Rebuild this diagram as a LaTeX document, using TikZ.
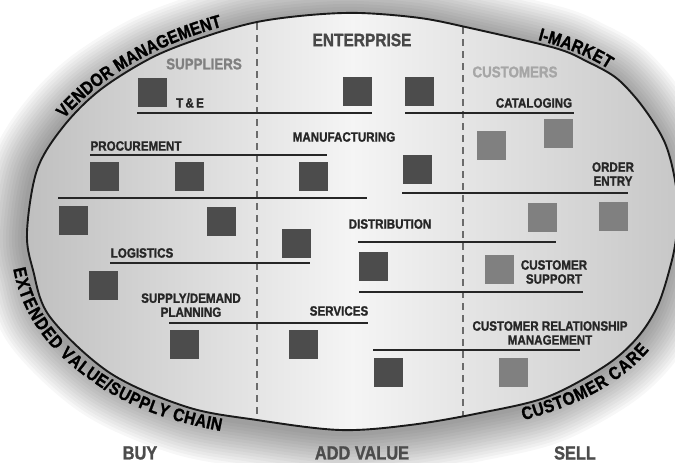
\documentclass[tikz,border=0pt]{standalone}
\usepackage{fontspec}
\newfontfamily\condfont{Liberation Sans}[FakeStretch=0.86, BoldFeatures={FakeBold=1.3}]
\usetikzlibrary{positioning,decorations.text}

% contorno dell'ovale (coordinate in px, y verso il basso)
\newcommand\ovale{plot[smooth cycle, tension=0.55] coordinates {(27,232) (37,170) (63,127) (100,90) (153,57) (207,36) (257,22) (310,15) (360,13) (420,18) (470,28) (555,48) (588,62) (615,77) (635,97) (652,120) (665,143) (673,170) (678,203) (677,230) (672,260) (658,305) (637,338) (605,366) (547,397) (480,413) (410,425) (340,430) (257,420) (187,407) (110,373) (50,317) (33,270)}}

\begin{document}
\begin{tikzpicture}[x=1pt, y=-1pt]
    % Stili
    \tikzset{
        sublabel/.style={font=\condfont\bfseries\fontsize{13.5}{14}\selectfont, text=black!85, align=center, inner sep=0pt},
        heading/.style={font=\condfont\bfseries\fontsize{15.5}{16}\selectfont, inner sep=0pt},
        stage/.style={font=\condfont\bfseries\fontsize{19}{20}\selectfont, text=black!70, inner sep=0pt},
        darkbox/.style={rectangle, fill=black!70, minimum size=29pt, inner sep=0pt},
        custbox/.style={rectangle, fill=black!50, minimum size=29pt, inner sep=0pt},
        sepline/.style={line width=2.4pt, black!85},
        divider/.style={line width=1.4pt, black!58, dash pattern=on 7pt off 5pt},
        curvetext/.style={decorate, decoration={text along path, text align=center,
            text={|\condfont\bfseries\fontsize{18}{18}\selectfont|#1}}}
    }
    \useasboundingbox (0,0) rectangle (675,463);

    % Alone e riempimento dell'ovale
    \foreach \w in {90,84,...,6}
        \draw[line width=\w pt, black, draw opacity=0.03, xshift=-3pt, yshift=-3pt] \ovale;
    \fill[left color=black!25, right color=black!22, middle color=black!4] \ovale;

    % Separatori tratteggiati
    \draw[divider] (257,23) -- (257,420);
    \draw[divider] (463,27) -- (463,417);

    % Titoli delle colonne
    \node[heading, font=\condfont\bfseries\fontsize{18}{18}\selectfont, text=black!72] (enterprise) at (362,40) {ENTERPRISE};
    \node[heading, text=black!50] (suppliers) at (204,64) {SUPPLIERS};
    \node[heading, text=black!35] (customers) at (515,72) {CUSTOMERS};

    % Linee orizzontali dei processi
    \draw[sepline] (137,113) -- (372,113);
    \draw[sepline] (405,113) -- (574,113);
    \draw[sepline] (90,155) -- (327,155);
    \draw[sepline] (58,198) -- (367,198);
    \draw[sepline] (402,193) -- (628,193);
    \draw[sepline] (358,242) -- (556,242);
    \draw[sepline] (110,263) -- (310,263);
    \draw[sepline] (359,292) -- (583,292);
    \draw[sepline] (169,323) -- (368,323);
    \draw[sepline] (373,350) -- (580,350);

    % Quadrati (fornitori e impresa)
    \foreach \n/\x/\y in {te/152/92, ent1/357/91, ent2/419/91, proc1/104/176, proc2/189/176,
        manu1/313/176, manu2/417/169, mid1/73/220, mid2/221/221, dist1/296/243,
        logi/103/285, dist2/373/266, plan/184/344, serv/303/344, crm1/388/372} {
        \node[darkbox] (sq-\n) at (\x,\y) {};
    }
    % Quadrati (clienti)
    \foreach \n/\x/\y in {cat1/491/145, cat2/558/133, ord1/542/217, ord2/613/216,
        supp/499/269, crm2/513/372} {
        \node[custbox] (sq-\n) at (\x,\y) {};
    }

    % Etichette dei processi
    \node[sublabel] (te) at (190,103) {T\,\&\,E};
    \node[sublabel] (cat) at (534,103) {CATALOGING};
    \node[sublabel] (proc) at (136,146) {PROCUREMENT};
    \node[sublabel] (manu) at (344,137) {MANUFACTURING};
    \node[sublabel] (ord) at (613,174) {ORDER\\ENTRY};
    \node[sublabel] (dist) at (390,224) {DISTRIBUTION};
    \node[sublabel] (logi) at (142,253) {LOGISTICS};
    \node[sublabel] (supp) at (554,272) {CUSTOMER\\SUPPORT};
    \node[sublabel] (plan) at (191,305) {SUPPLY/DEMAND\\PLANNING};
    \node[sublabel] (serv) at (339,311) {SERVICES};
    \node[sublabel] (crm) at (550,333) {CUSTOMER RELATIONSHIP\\MANAGEMENT};

    % Bordo dell'ovale
    \draw[line width=1.9pt, black!90] \ovale;

    % Scritte lungo il bordo
    \path[curvetext=VENDOR MANAGEMENT, decoration={raise=4pt}]
        (57.2,134.1) .. controls (93.3,84.1) and (158.7,45.4) .. (238.9,26.5);
    \path[curvetext=I-MARKET, decoration={raise=4pt}]
        (492,32) .. controls (549.6,47.6) and (605,57) .. (640,104);
    \path[curvetext=EXTENDED VALUE/SUPPLY CHAIN, decoration={raise=-17pt}]
        (27,232) .. controls (27,298) and (57,338) .. (110,373)
        .. controls (152.6,401) and (206.6,412.4) .. (257,420);
    \path[curvetext=CUSTOMER CARE, decoration={raise=-17pt}]
        (480,413) .. controls (553.5,398) and (627,373) .. (658,305);

    % Fasi in basso
    \node[stage] (buy) at (140,453) {BUY};
    \node[stage] (addvalue) at (362,453) {ADD VALUE};
    \node[stage] (sell) at (575,453) {SELL};
\end{tikzpicture}
\end{document}
